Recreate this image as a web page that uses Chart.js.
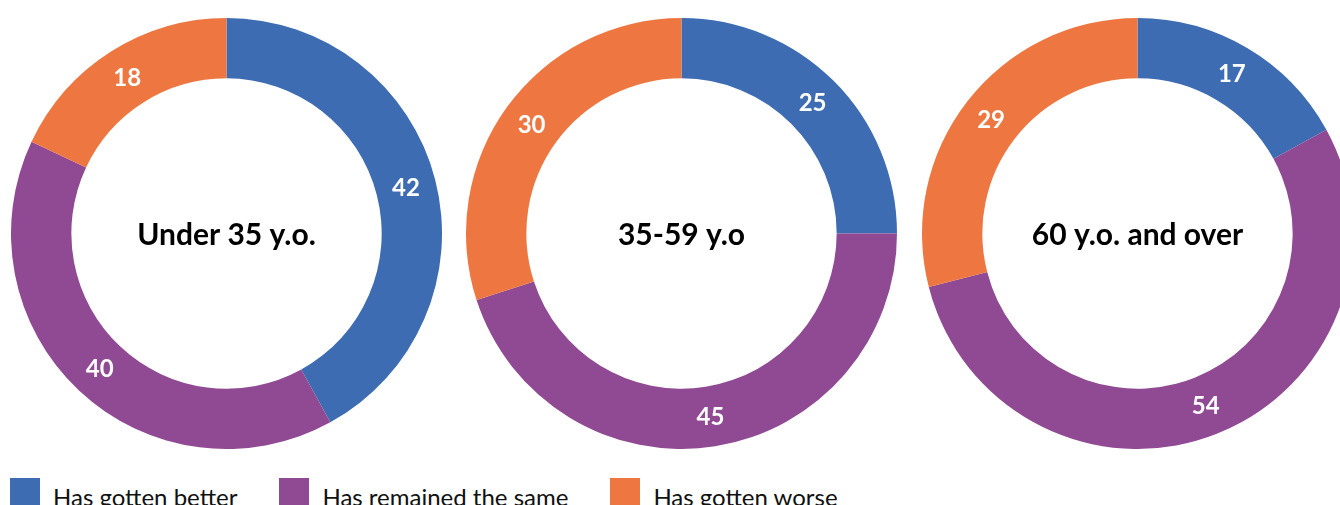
<!DOCTYPE html>
<html lang="en">
<head>
<meta charset="UTF-8">
<title>Age groups</title>
<script src="https://cdn.jsdelivr.net/npm/chart.js"></script>
<style>
  html, body { margin: 0; padding: 0; background: #fff; overflow: hidden; }
  body { width: 1340px; height: 505px; position: relative; }
  .pie { position: absolute; top: 18px; width: 431px; height: 431px; }
  #legend { position: absolute; left: 10px; top: 478px; display: flex; font-family: Lato, sans-serif; font-size: 24px; color: #111; }
  .item { display: flex; align-items: flex-start; margin-right: 42px; }
  .box { width: 30px; height: 30px; margin-right: 13px; }
  .item span { line-height: 28px; padding-top: 5px; }
</style>
</head>
<body>

<div class="pie" style="left:11px"><canvas id="c0" width="431" height="431"></canvas></div>
<div class="pie" style="left:466px"><canvas id="c1" width="431" height="431"></canvas></div>
<div class="pie" style="left:922px"><canvas id="c2" width="431" height="431"></canvas></div>
<div id="legend"></div>

<script>
    const categories = ['Has gotten better', 'Has remained the same', 'Has gotten worse'];
    const groups = ['Under 35 y.o.', '35-59 y.o', '60 y.o. and over'];
    const under35 = [42, 40, 18];
    const mid35to59 = [25, 45, 30];
    const over60 = [17, 54, 29];
    const colors = ['#3d6cb3', '#904a93', '#ee7741'];

    const seriesList = [under35, mid35to59, over60];

    // etiquetas blancas en el anillo + texto central
    const labelsPlugin = {
        id: 'ringLabels',
        afterDatasetsDraw(chart, args, opts) {
            const c = chart.ctx;
            const meta = chart.getDatasetMeta(0);
            c.save();
            c.fillStyle = '#fff';
            c.font = 'bold 24px Lato, sans-serif';
            c.textAlign = 'center';
            c.textBaseline = 'alphabetic';
            meta.data.forEach((arc, i) => {
                const p = arc.tooltipPosition();
                c.fillText(chart.data.datasets[0].data[i], p.x, p.y + 8.5);
            });
            const a = meta.data[0];
            c.fillStyle = '#000';
            c.font = 'bold 30px Lato, sans-serif';
            c.fillText(opts.title, a.x, a.y + 11);
            c.restore();
        }
    };

    seriesList.forEach((values, k) => {
        const ctx = document.getElementById('c' + k).getContext('2d');
        new Chart(ctx, {
            type: 'doughnut',
            data: {
                labels: categories,
                datasets: [{
                    data: values,
                    backgroundColor: colors,
                    borderWidth: 0
                }]
            },
            options: {
                responsive: false,
                animation: false,
                cutout: '72%',
                layout: { padding: 0 },
                plugins: {
                    legend: { display: false },
                    tooltip: { enabled: false },
                    ringLabels: { title: groups[k] }
                }
            },
            plugins: [labelsPlugin]
        });
    });

    // leyenda en html
    const legend = document.getElementById('legend');
    categories.forEach((name, i) => {
        const item = document.createElement('div');
        item.className = 'item';
        item.innerHTML = '<div class="box" style="background:' + colors[i] + '"></div><span>' + name + '</span>';
        legend.appendChild(item);
    });
</script>

</body>
</html>
